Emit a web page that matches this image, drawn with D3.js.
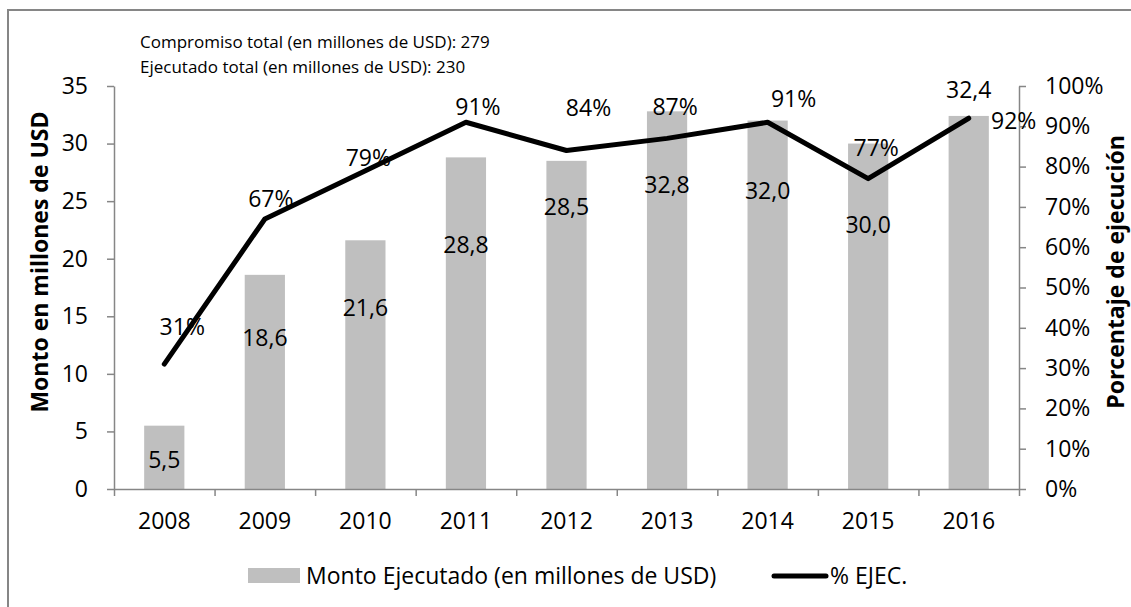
<!DOCTYPE html>
<html>
<head>
<meta charset="utf-8">
<script src="https://cdn.jsdelivr.net/npm/d3@7"></script>
<style>
  body { margin: 0; background: #fff; }
  svg { display: block; font-family: "Open Sans", sans-serif; }
</style>
</head>
<body>
<div id="chart"></div>
<script>
const years = ['2008', '2009', '2010', '2011', '2012', '2013', '2014', '2015', '2016']
const montoEjecutado = [5.5, 18.6, 21.6, 28.8, 28.5, 32.8, 32.0, 30.0, 32.4]
const pctEjecucion = [0.31, 0.67, 0.79, 0.91, 0.84, 0.87, 0.91, 0.77, 0.92]
const leftTicks = [0, 5, 10, 15, 20, 25, 30, 35]
const rightTicks = [0, 0.1, 0.2, 0.3, 0.4, 0.5, 0.6, 0.7, 0.8, 0.9, 1]
const notes = [
  'Compromiso total (en millones de USD): 279',
  'Ejecutado total (en millones de USD): 230'
]

// hand-placed label offsets (px), as moved in the original
const barLabelDy = [34, 63, 68, 88, 46, 74, 70, 81, -26]
const pctLabelDx = [18, 6, 3, 12, 22, 8, 26, 8, 45]
const pctLabelDy = [-37, -20, -13, -15, -43, -31, -23, -31, 3]

const W = 1131, H = 607
const params = { left: 114, right: 1019, top: 86, bottom: 489 }
const grey = '#868686'

const es = d3.formatLocale({ decimal: ',', thousands: '.', grouping: [3], currency: ['', ''] })
const fmt1 = es.format('.1f')
const pct = d3.format('.0%')

const svg = d3.select('#chart').append('svg')
  .attr('width', W)
  .attr('height', H)

svg.append('rect').attr('width', W).attr('height', H).attr('fill', '#fff')

// outer frame (right and bottom edges are cut off in the original)
svg.append('path')
  .attr('d', `M8,${H + 5}V10H${W + 5}`)
  .attr('fill', 'none')
  .attr('stroke', grey)
  .attr('stroke-width', 2)

const x = d3.scaleBand().domain(years).range([params.left, params.right])
const xEdge = d3.scaleLinear().domain([0, years.length]).range([params.left, params.right])
const yL = d3.scaleLinear().domain([0, 35]).range([params.bottom, params.top])
const yR = d3.scaleLinear().domain([0, 1]).range([params.bottom, params.top])

const barW = x.bandwidth() * 0.4

// bars
svg.append('g')
  .selectAll('rect')
  .data(montoEjecutado)
  .enter()
  .append('rect')
  .attr('x', (d, i) => x(years[i]) + (x.bandwidth() - barW) / 2)
  .attr('y', d => yL(d))
  .attr('width', barW)
  .attr('height', d => yL(0) - yL(d))
  .attr('fill', '#bfbfbf')

// axes
function styleAxis(g) {
  g.selectAll('.domain, line').attr('stroke', grey).attr('stroke-width', 1.5)
  g.selectAll('text').attr('font-size', 23).attr('fill', '#000').attr('font-family', '"Open Sans", sans-serif')
}

svg.append('g')
  .attr('transform', `translate(${params.left},0)`)
  .call(d3.axisLeft(yL).tickValues(leftTicks).tickSize(7).tickSizeOuter(0).tickPadding(19))
  .call(styleAxis)

svg.append('g')
  .attr('transform', `translate(${params.right},0)`)
  .call(d3.axisRight(yR).tickValues(rightTicks).tickFormat(pct).tickSize(7).tickSizeOuter(0).tickPadding(19))
  .call(styleAxis)

svg.append('g')
  .attr('transform', `translate(0,${params.bottom})`)
  .call(d3.axisBottom(xEdge).ticks(years.length).tickFormat('').tickSize(7).tickSizeOuter(0))
  .call(styleAxis)

svg.append('g')
  .attr('transform', `translate(0,${params.bottom})`)
  .call(d3.axisBottom(x).tickSize(0).tickPadding(24))
  .call(g => g.select('.domain').remove())
  .call(styleAxis)

// line
const line = d3.line()
  .x((d, i) => x(years[i]) + x.bandwidth() / 2)
  .y(d => yR(d))

svg.append('path')
  .datum(pctEjecucion)
  .attr('d', line)
  .attr('fill', 'none')
  .attr('stroke', '#000')
  .attr('stroke-width', 5)
  .attr('stroke-linejoin', 'round')
  .attr('stroke-linecap', 'round')

// data labels
svg.append('g')
  .selectAll('text')
  .data(montoEjecutado)
  .enter()
  .append('text')
  .attr('x', (d, i) => x(years[i]) + x.bandwidth() / 2)
  .attr('y', (d, i) => yL(d) + barLabelDy[i])
  .attr('dy', '0.35em')
  .attr('text-anchor', 'middle')
  .attr('font-size', 23)
  .text(d => fmt1(d))

svg.append('g')
  .selectAll('text')
  .data(pctEjecucion)
  .enter()
  .append('text')
  .attr('x', (d, i) => x(years[i]) + x.bandwidth() / 2 + pctLabelDx[i])
  .attr('y', (d, i) => yR(d) + pctLabelDy[i])
  .attr('dy', '0.35em')
  .attr('text-anchor', 'middle')
  .attr('font-size', 23)
  .text(d => pct(d))

// axis titles
svg.append('text')
  .attr('transform', 'translate(48,262) rotate(-90)')
  .attr('text-anchor', 'middle')
  .attr('font-size', 23)
  .attr('font-weight', 'bold')
  .text('Monto en millones de USD')

svg.append('text')
  .attr('transform', 'translate(1124,272) rotate(-90)')
  .attr('text-anchor', 'middle')
  .attr('font-size', 23)
  .attr('font-weight', 'bold')
  .text('Porcentaje de ejecución')

// notes at the top
svg.append('g')
  .selectAll('text')
  .data(notes)
  .enter()
  .append('text')
  .attr('x', 140)
  .attr('y', (d, i) => 42 + i * 25)
  .attr('dy', '0.35em')
  .attr('font-size', 17)
  .text(d => d)

// legend
const legend = svg.append('g').attr('transform', 'translate(0,576)')
legend.append('rect')
  .attr('x', 248).attr('y', -8)
  .attr('width', 52).attr('height', 15)
  .attr('fill', '#bfbfbf')
legend.append('text')
  .attr('x', 306).attr('dy', '0.35em')
  .attr('font-size', 23)
  .text('Monto Ejecutado (en millones de USD)')
legend.append('line')
  .attr('x1', 774).attr('x2', 826)
  .attr('stroke', '#000').attr('stroke-width', 5)
  .attr('stroke-linecap', 'round')
legend.append('text')
  .attr('x', 830).attr('dy', '0.35em')
  .attr('font-size', 23)
  .text('% EJEC.')
</script>
</body>
</html>
